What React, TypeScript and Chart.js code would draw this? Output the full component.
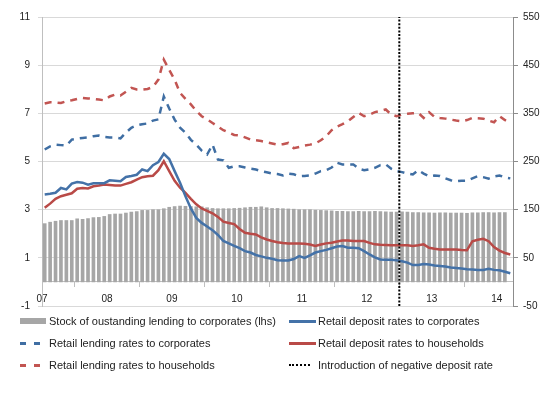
import React, { useEffect, useRef } from 'react';
import { Chart, registerables } from 'chart.js';

Chart.register(...registerables);

// Monthly data, Jan 2007 – Mar 2014 (87 months)
const yearLabels = ['07', '08', '09', '10', '11', '12', '13', '14'];

const stockLending = [
  2.42, 2.48, 2.52, 2.55, 2.55, 2.55, 2.62, 2.6, 2.63, 2.67, 2.68, 2.72,
  2.8, 2.82, 2.82, 2.86, 2.9, 2.92, 2.97, 2.97, 3.0, 3.0, 3.04, 3.1,
  3.13, 3.15, 3.14, 3.13, 3.12, 3.12, 3.08, 3.05, 3.04, 3.04, 3.04, 3.05,
  3.06, 3.08, 3.1, 3.1, 3.12, 3.08, 3.05, 3.05, 3.04, 3.03, 3.02, 3.0,
  3.0, 3.0, 2.98, 2.97, 2.96, 2.95, 2.93, 2.93, 2.92, 2.92, 2.93, 2.92,
  2.92, 2.93, 2.92, 2.91, 2.9, 2.9, 2.91, 2.9, 2.88, 2.88, 2.87, 2.87,
  2.86, 2.87, 2.87, 2.86, 2.86, 2.86, 2.85, 2.87, 2.87, 2.88, 2.88, 2.87,
  2.88, 2.88, null,
];

const depositCorporates = [
  3.63, 3.66, 3.7, 3.9, 3.84, 4.08, 4.15, 4.12, 4.04, 4.1, 4.1, 4.1,
  4.22, 4.2, 4.18, 4.36, 4.4, 4.45, 4.67, 4.6, 4.85, 4.98, 5.32, 5.1,
  4.6, 4.12, 3.56, 3.05, 2.66, 2.45, 2.3, 2.15, 1.95, 1.7, 1.6, 1.5,
  1.4, 1.28, 1.22, 1.12, 1.06, 1.0, 0.96, 0.9, 0.89, 0.89, 0.95, 1.07,
  1.0, 1.1, 1.22, 1.28, 1.33, 1.4, 1.47, 1.49, 1.42, 1.42, 1.4, 1.28,
  1.14, 1.02, 0.93, 0.92, 0.92, 0.9, 0.86, 0.8, 0.7, 0.7, 0.74, 0.72,
  0.68, 0.66, 0.64, 0.6, 0.58, 0.56, 0.53, 0.52, 0.5, 0.5, 0.55, 0.5,
  0.48, 0.42, 0.36,
];

const depositHouseholds = [
  3.08, 3.25, 3.45, 3.56, 3.62, 3.68, 3.87, 3.9, 3.88, 3.97, 4.0, 4.04,
  4.02, 4.0, 4.0, 4.07, 4.14, 4.25, 4.35, 4.39, 4.41, 4.64, 5.01, 4.6,
  4.2, 3.91, 3.7, 3.45, 3.22, 3.05, 2.95, 2.85, 2.7, 2.5, 2.45, 2.4,
  2.2, 2.04, 2.0, 1.97, 1.85, 1.76, 1.7, 1.65, 1.62, 1.6, 1.6, 1.6,
  1.58, 1.55, 1.49, 1.55, 1.6, 1.63, 1.68, 1.72, 1.72, 1.7, 1.7, 1.7,
  1.62, 1.56, 1.54, 1.53, 1.52, 1.52, 1.52, 1.52, 1.49, 1.52, 1.56, 1.42,
  1.38, 1.35, 1.35, 1.35, 1.35, 1.33, 1.32, 1.69, 1.75, 1.79, 1.69, 1.45,
  1.3, 1.2, 1.14,
];

const lendingCorporates = [
  5.5, 5.63, 5.7, 5.68, 5.66, 5.91, 5.95, 5.98, 6.0, 6.05, 6.08, 6.02,
  6.0, 6.0, 5.96, 6.2, 6.4, 6.5, 6.55, 6.58, 6.7, 6.75, 7.7, 7.2,
  6.74, 6.4, 6.19, 5.9, 5.7, 5.45, 5.29, 5.7, 5.08, 5.05, 4.74, 4.8,
  4.8, 4.75, 4.7, 4.67, 4.6, 4.55, 4.5, 4.48, 4.42, 4.5, 4.47, 4.39,
  4.4, 4.42, 4.5, 4.6, 4.64, 4.75, 4.95, 4.88, 4.88, 4.88, 4.7, 4.64,
  4.68, 4.74, 4.85, 4.88, 4.7, 4.6, 4.56, 4.5, 4.46, 4.64, 4.5, 4.39,
  4.42, 4.4, 4.3, 4.22, 4.18, 4.2, 4.2, 4.3, 4.39, 4.35, 4.29, 4.38,
  4.42, 4.34, 4.3,
];

const lendingHouseholds = [
  7.41, 7.46, 7.45, 7.43, 7.5, 7.54, 7.6, 7.64, 7.62, 7.6, 7.57, 7.54,
  7.7, 7.78, 7.74, 7.9, 8.06, 7.99, 7.98, 8.01, 8.1, 8.4, 9.23, 8.8,
  8.4, 7.85, 7.6, 7.37, 7.1, 6.88, 6.75, 6.6, 6.45, 6.3, 6.2, 6.1,
  6.08, 6.0, 5.91, 5.88, 5.85, 5.8, 5.75, 5.7, 5.72, 5.77, 5.55, 5.6,
  5.66, 5.7, 5.75, 5.88, 6.05, 6.3, 6.45, 6.55, 6.67, 6.85, 7.02, 6.88,
  6.95, 7.05, 7.1, 7.16, 6.95, 6.88, 6.95, 6.98, 7.0, 7.02, 6.81, 7.05,
  6.85, 6.81, 6.78, 6.74, 6.7, 6.67, 6.72, 6.81, 6.8, 6.78, 6.7, 6.63,
  6.88, 6.72, 6.67,
];

// Month index (from Jan 2007) of the introduction of the negative deposit rate (July 2012)
const negativeRateMonth = 66;

const leftMin = -1;
const leftMax = 11;
const leftStep = 2;
const rightMin = -50;
const rightMax = 550;
const rightStep = 100;

const BLUE = '#4472a8';
const BLUE_DASH = '#3f6ea3';
const RED = '#b94a47';
const RED_DASH = '#c25552';
const GREY_BAR = '#a6a6a6';
const FONT = { family: '"Liberation Sans", Arial, sans-serif', size: 10 };

const toPoints = (arr: (number | null)[]) => arr.map((v, i) => ({ x: i + 0.5, y: v }));

type LegendKind = 'bar' | 'solid' | 'dash' | 'dot';
const legendItems: { label: string; kind: LegendKind; color: string; col: number; row: number }[] = [
  { label: 'Stock of oustanding lending to corporates (lhs)', kind: 'bar', color: GREY_BAR, col: 0, row: 0 },
  { label: 'Retail deposit rates to corporates', kind: 'solid', color: BLUE, col: 1, row: 0 },
  { label: 'Retail lending rates to corporates', kind: 'dash', color: BLUE_DASH, col: 0, row: 1 },
  { label: 'Retail deposit rates to households', kind: 'solid', color: RED, col: 1, row: 1 },
  { label: 'Retail lending rates to households', kind: 'dash', color: RED_DASH, col: 0, row: 2 },
  { label: 'Introduction of negative deposit rate', kind: 'dot', color: '#000', col: 1, row: 2 },
];

function Symbol({ kind, color }: { kind: LegendKind; color: string }) {
  if (kind === 'bar') {
    return <div style={{ position: 'absolute', left: 0, top: -3, width: 26, height: 6, background: color }} />;
  }
  if (kind === 'solid') {
    return <div style={{ position: 'absolute', left: 0, top: -1, width: 27, height: 2.5, background: color }} />;
  }
  if (kind === 'dash') {
    return (
      <>
        <div style={{ position: 'absolute', left: 0, top: -1, width: 6, height: 2.5, background: color }} />
        <div style={{ position: 'absolute', left: 14, top: -1, width: 6, height: 2.5, background: color }} />
      </>
    );
  }
  return <div style={{ position: 'absolute', left: 0, top: -1, width: 21, height: 0, borderTop: '2px dotted ' + color }} />;
}

export default function App() {
  const canvasRef = useRef<HTMLCanvasElement | null>(null);

  useEffect(() => {
    const canvas = canvasRef.current;
    if (!canvas) return;
    const chart = new Chart(canvas, {
      type: 'bar',
      data: {
        datasets: [
          {
            type: 'line',
            label: 'Introduction of negative deposit rate',
            data: [
              { x: negativeRateMonth, y: leftMin },
              { x: negativeRateMonth, y: leftMax },
            ],
            borderColor: '#000',
            borderWidth: 2,
            borderDash: [2, 1.6],
            pointRadius: 0,
            yAxisID: 'y',
            order: 0,
            clip: false,
          } as any,
          {
            type: 'line',
            label: 'Retail deposit rates to corporates',
            data: toPoints(depositCorporates),
            borderColor: BLUE,
            borderWidth: 2.5,
            pointRadius: 0,
            yAxisID: 'y',
            order: 1,
          },
          {
            type: 'line',
            label: 'Retail deposit rates to households',
            data: toPoints(depositHouseholds),
            borderColor: RED,
            borderWidth: 2.5,
            pointRadius: 0,
            yAxisID: 'y',
            order: 2,
          },
          {
            type: 'line',
            label: 'Retail lending rates to corporates',
            data: toPoints(lendingCorporates),
            borderColor: BLUE_DASH,
            borderWidth: 2.5,
            borderDash: [7, 6],
            pointRadius: 0,
            yAxisID: 'y',
            order: 3,
          },
          {
            type: 'line',
            label: 'Retail lending rates to households',
            data: toPoints(lendingHouseholds),
            borderColor: RED_DASH,
            borderWidth: 2.5,
            borderDash: [7, 6],
            pointRadius: 0,
            yAxisID: 'y',
            order: 4,
          },
          {
            type: 'bar',
            label: 'Stock of oustanding lending to corporates (lhs)',
            data: toPoints(stockLending) as any,
            backgroundColor: GREY_BAR,
            barThickness: 3,
            yAxisID: 'y',
            order: 10,
          },
        ],
      },
      options: {
        responsive: false,
        animation: false,
        parsing: true,
        layout: { padding: { top: 17, bottom: 93, left: 0, right: 0 } },
        plugins: { legend: { display: false }, tooltip: { enabled: false } },
        scales: {
          x: {
            type: 'linear',
            min: 0,
            max: 87,
            position: { y: 0 } as any,
            offset: false,
            grid: { drawOnChartArea: false, drawTicks: true, tickLength: 5, color: '#bfbfbf' },
            border: { color: '#bfbfbf' },
            ticks: {
              stepSize: 12,
              includeBounds: false,
              autoSkip: false,
              maxRotation: 0,
              padding: 6,
              color: '#222',
              font: FONT,
              callback: (v: any) => {
                const idx = Number(v) / 12;
                return Number.isInteger(idx) && yearLabels[idx] ? yearLabels[idx] : '';
              },
            },
          },
          y: {
            type: 'linear',
            position: 'left',
            min: leftMin,
            max: leftMax,
            grid: { color: '#d9d9d9', tickLength: 4, drawTicks: true },
            border: { color: '#bfbfbf' },
            ticks: { stepSize: leftStep, padding: 8, color: '#222', font: FONT },
            afterFit: (s: any) => {
              s.width = 42;
            },
          },
          y1: {
            type: 'linear',
            position: 'right',
            min: rightMin,
            max: rightMax,
            grid: { drawOnChartArea: false, tickLength: 5, color: '#8c8c8c' },
            border: { color: '#8c8c8c' },
            ticks: { stepSize: rightStep, padding: 5, color: '#222', font: FONT },
            afterFit: (s: any) => {
              s.width = 37;
            },
          },
        },
      } as any,
    });
    return () => chart.destroy();
  }, []);

  const colX = [20, 289];
  const textX = [49, 318];
  const rowY = [321, 343, 365];

  return (
    <div style={{ position: 'absolute', left: 0, top: 0, width: 550, height: 399, background: '#fff' }}>
      <canvas ref={canvasRef} width={550} height={399} style={{ width: 550, height: 399, display: 'block' }} />
      {legendItems.map((it) => (
        <React.Fragment key={it.label}>
          <div style={{ position: 'absolute', left: colX[it.col], top: rowY[it.row], width: 30, height: 0 }}>
            <Symbol kind={it.kind} color={it.color} />
          </div>
          <div
            style={{
              position: 'absolute',
              left: textX[it.col],
              top: rowY[it.row] - 7,
              height: 14,
              lineHeight: '14px',
              fontFamily: '"Liberation Sans", Arial, sans-serif',
              fontSize: 11,
              color: '#222',
              whiteSpace: 'nowrap',
            }}
          >
            {it.label}
          </div>
        </React.Fragment>
      ))}
    </div>
  );
}
